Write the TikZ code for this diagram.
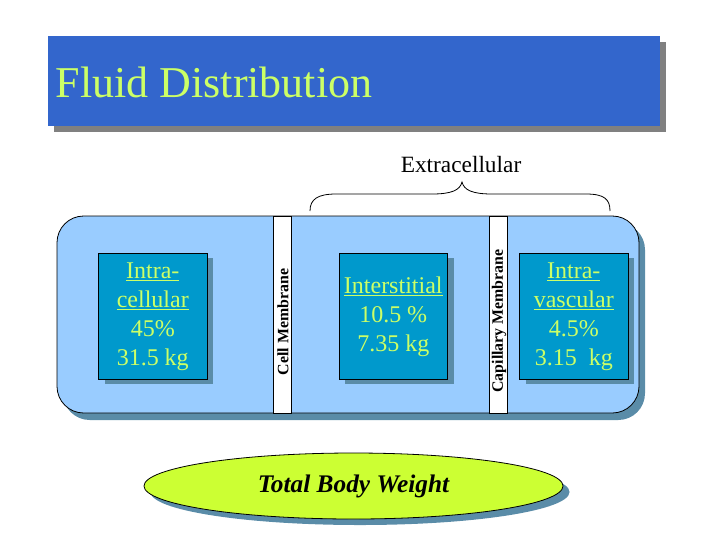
\documentclass[tikz,border=0pt]{standalone}
\usepackage{fontspec}
\setmainfont{Liberation Serif}
\usetikzlibrary{shapes.geometric}
\definecolor{titleblue}{RGB}{51,102,204}
\definecolor{titlegray}{RGB}{128,128,128}
\definecolor{lightblue}{RGB}{153,204,255}
\definecolor{boxblue}{RGB}{0,153,204}
\definecolor{limetext}{RGB}{204,255,102}
\definecolor{shadowblue}{RGB}{90,140,168}
\definecolor{ellfill}{RGB}{204,255,51}
\tikzset{
  compbox/.style={draw=black, line width=0.6pt, fill=boxblue, text=limetext, align=center,
    minimum width=81.4pt, minimum height=94.5pt, inner sep=0pt,
    font=\fontsize{18}{21.8}\selectfont},
  membrane/.style={draw=black, line width=0.6pt, fill=white},
  memtext/.style={rotate=90, font=\bfseries\fontsize{11.9}{14}\selectfont, inner sep=0pt},
  shadowfill/.style={fill=shadowblue}
}
\begin{document}
\begin{tikzpicture}[x=0.75pt,y=-0.75pt]
\useasboundingbox (0,0) rectangle (720,540);
% title
\fill[titlegray] (54,42) rectangle (666,132);
\fill[titleblue] (48,36) rectangle (660,126);
\node[anchor=base west, text=limetext, font=\fontsize{33}{40}\selectfont, inner sep=0pt] (title) at (55.5,97) {Fluid Distribution};
% extracellular label and brace
\node[anchor=base, font=\fontsize{17.5}{21}\selectfont, inner sep=0pt] (extra) at (461,172) {Extracellular};
\draw[line width=0.6pt] (310,211) .. controls (310,199) and (318,194) .. (336,194) -- (432,194)
  .. controls (452,194) and (460,190) .. (462,182)
  .. controls (464,190) and (472,194) .. (492,194) -- (586,194)
  .. controls (604,194) and (610,199) .. (610,211);
% main rounded body
\fill[shadowblue, rounded corners=20pt] (63,223) rectangle (645,420);
\draw[fill=lightblue, line width=0.6pt, rounded corners=20pt] (57,216) rectangle (639,413);
% membranes
\draw[membrane] (273,216) rectangle (291,413);
\draw[membrane] (489,216) rectangle (507,413);
\node[memtext] (cellm) at (283,322) {Cell Membrane};
\node[memtext] (capm) at (499,321) {Capillary Membrane};
% compartment shadows
\fill[shadowfill] (104.5,258) rectangle (213,384);
\fill[shadowfill] (345,258) rectangle (453.5,384);
\fill[shadowfill] (525.5,258) rectangle (634,384);
% compartments
\node[compbox] (intracell) at (152.75,316.5) {\underline{Intra-}\\\underline{cellular}\\45\%\\31.5 kg};
\node[compbox] (interst) at (393.25,316.5) {\underline{Interstitial}\\10.5 \%\\7.35 kg};
\node[compbox] (intravasc) at (573.75,316.5) {\underline{Intra-}\\\underline{vascular}\\4.5\%\\3.15~ kg};
% total body weight
\node[ellipse, fill=shadowblue, minimum width=314.25pt, minimum height=49.5pt, inner sep=0pt] (tbwshadow) at (360,492) {};
\node[ellipse, draw=black, line width=0.6pt, fill=ellfill, minimum width=314.25pt, minimum height=49.5pt, inner sep=0pt,
  font=\bfseries\itshape\fontsize{19}{22}\selectfont] (tbw) at (353.5,486) {\raisebox{-2.5pt}{Total Body Weight}};
\end{tikzpicture}
\end{document}
